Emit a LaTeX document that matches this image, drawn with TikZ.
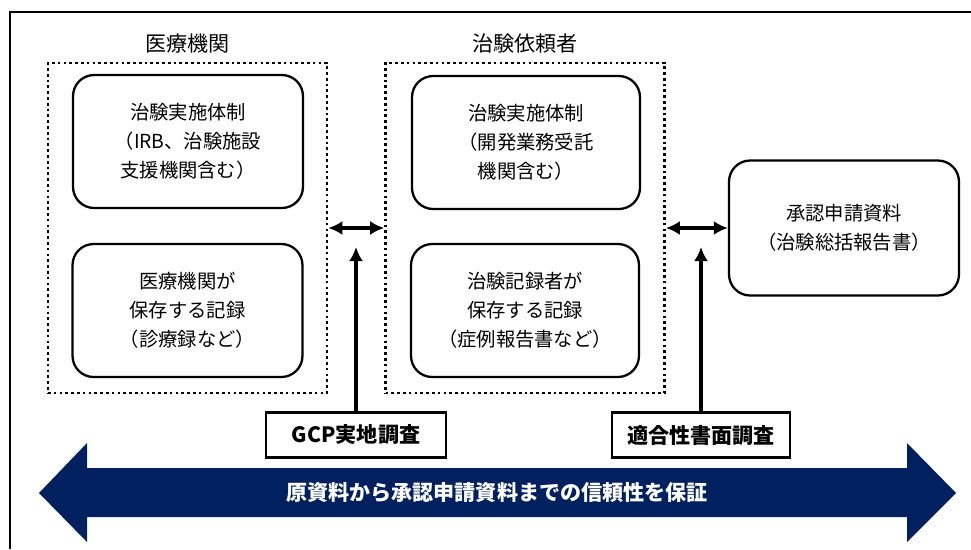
\documentclass[tikz,border=0pt]{standalone}
\usepackage{fontspec}
\setmainfont{Noto Sans CJK JP}
\usepackage{tikz}
\usetikzlibrary{arrows.meta}
\usetikzlibrary{positioning}
\definecolor{navy}{RGB}{0,32,96}
\tikzstyle{every node}+=[inner sep=0pt]
\tikzstyle{block} = [rectangle, draw, line width=1.3pt, rounded corners=12pt, minimum width=4.6cm, minimum height=2.66cm, align=center, font=\fontsize{11}{16.5}\selectfont]
\tikzstyle{group} = [rectangle, draw, line width=1.5pt, dash pattern=on 1.5pt off 1.8pt, minimum width=5.58cm, minimum height=6.6cm]
\tikzstyle{title} = [font=\fontsize{12}{14}\selectfont]
\tikzstyle{check} = [rectangle, draw, line width=1.3pt, minimum width=3.6cm, minimum height=0.9cm, font=\bfseries\fontsize{12}{14}\selectfont]
\tikzstyle{line} = [draw, line width=1.8pt, {Latex[length=8pt,width=8pt]}-{Latex[length=8pt,width=8pt]}]
\tikzstyle{up} = [draw, line width=1.8pt, -{Latex[length=8pt,width=8pt]}]

\begin{document}
\begin{tikzpicture}[x=0.02cm, y=-0.02cm]
            \useasboundingbox (0,0) rectangle (971,549);
            % Frame
            \draw [line width=1.2pt] (10,549) -- (10,12) -- (971,12);
            % Place nodes
            \node [group] (med) at (187.5,228) {};
            \node [title, above=0.17cm of med] (medt) {医療機関};
            \node [block] (med1) at (188,141.5) {治験実施体制\\（IRB、治験施設\\支援機関含む）};
            \node [block] (med2) at (187.5,310.5) {医療機関が\\保存する記録\\（診療録など）};
            \node [group] (spo) at (525,228) {};
            \node [title, above=0.17cm of spo] (spot) {治験依頼者};
            \node [block, minimum width=4.56cm] (spo1) at (526,142.5) {治験実施体制\\（開発業務受託\\機関含む）};
            \node [block, minimum width=4.56cm] (spo2) at (525,310.5) {治験記録者が\\保存する記録\\（症例報告書など）};
            \node [block, minimum height=2.7cm] (doc) at (844,228) {承認申請資料\\（治験総括報告書）};
            \node [check] (gcp) at (356,435) {GCP実地調査};
            \node [check, minimum width=3.56cm] (paper) at (701,435) {適合性書面調査};
            \coordinate (gcptip) at (356,247);
            \coordinate (papertip) at (701,247);
            % Draw edges
            \path [line] (med) -- (spo);
            \path [line] (spo) -- (doc);
            \path [up] (gcp) -- (gcptip);
            \path [up] (paper) -- (papertip);
            % Band
            \fill [navy] (39,493) -- (87,443) -- (87,468) -- (907,468) -- (907,443) -- (956,493)
                -- (907,542) -- (907,517) -- (87,517) -- (87,542) -- cycle;
            \node [white, font=\bfseries\fontsize{12}{14}\selectfont] (band) at (497,493) {原資料から承認申請資料までの信頼性を保証};
\end{tikzpicture}
\end{document}
